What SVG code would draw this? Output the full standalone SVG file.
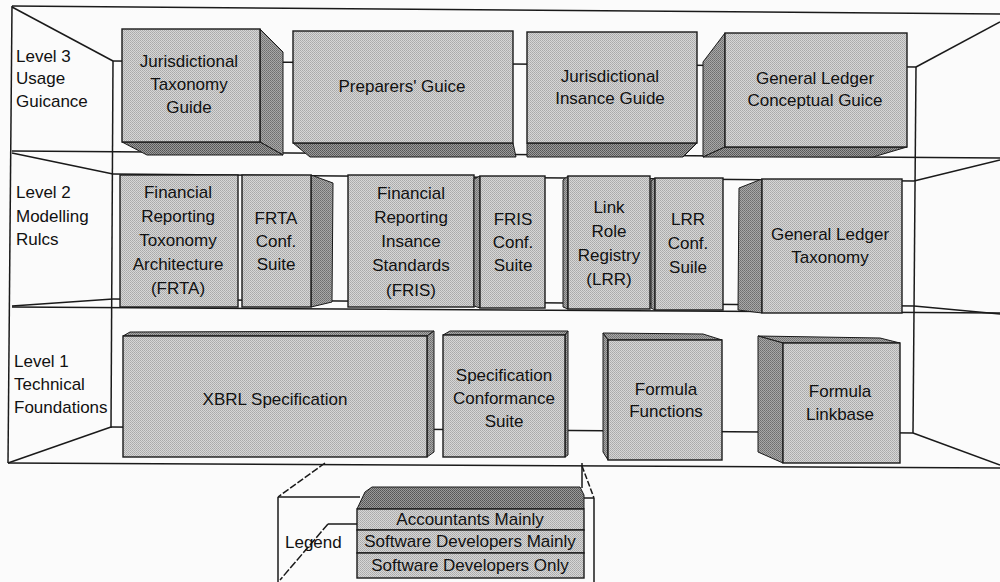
<svg xmlns="http://www.w3.org/2000/svg" width="1000" height="582" viewBox="0 0 1000 582">
<defs>
<pattern id="tf" width="2" height="2" patternUnits="userSpaceOnUse"><rect width="2" height="2" fill="#d6d6d6"/><rect width="1" height="1" fill="#a9a9a9"/><rect x="1" y="1" width="1" height="1" fill="#b2b2b2"/></pattern>
<pattern id="ts" width="2" height="2" patternUnits="userSpaceOnUse"><rect width="2" height="2" fill="#a8a8a8"/><rect width="1" height="1" fill="#6e6e6e"/><rect x="1" y="1" width="1" height="1" fill="#7a7a7a"/></pattern>
<pattern id="tb" width="2" height="2" patternUnits="userSpaceOnUse"><rect width="2" height="2" fill="#9a9a9a"/><rect width="1" height="1" fill="#555"/><rect x="1" y="1" width="1" height="1" fill="#606060"/></pattern>
<style>
.ln{stroke:#1a1a1a;stroke-width:1.5;fill:none}
.f{fill:url(#tf);stroke:#1a1a1a;stroke-width:1.4}
.s{fill:url(#ts);stroke:#1a1a1a;stroke-width:1}
.b{fill:url(#tb);stroke:#1a1a1a;stroke-width:1}
.t{font-family:"Liberation Sans",Arial,sans-serif;font-size:17px;fill:#111}
.c{text-anchor:middle}
</style>
</defs>
<rect width="1000" height="582" fill="#fbfbfb"/>

<g id="frame">
<line class="ln" x1="12" y1="6" x2="1000" y2="14"/>
<line class="ln" x1="12" y1="6" x2="8" y2="463"/>
<line class="ln" x1="12" y1="7" x2="113" y2="61"/>
<line class="ln" x1="113" y1="61" x2="111" y2="428"/>
<line class="ln" x1="916" y1="67" x2="1000" y2="22"/>
<line class="ln" x1="916" y1="67" x2="913" y2="433"/>
<line class="ln" x1="113" y1="61" x2="916" y2="67"/>
<line class="ln" x1="12" y1="151" x2="1000" y2="158"/>
<line class="ln" x1="12" y1="153" x2="113" y2="174"/>
<line class="ln" x1="113" y1="174" x2="914" y2="181"/>
<line class="ln" x1="914" y1="181" x2="1000" y2="160"/>
<line class="ln" x1="12" y1="307" x2="1000" y2="313"/>
<line class="ln" x1="12" y1="306" x2="113" y2="299"/>
<line class="ln" x1="113" y1="299" x2="914" y2="306"/>
<line class="ln" x1="914" y1="306" x2="1000" y2="314"/>
<line class="ln" x1="111" y1="427" x2="913" y2="433"/>
<line class="ln" x1="111" y1="427" x2="8" y2="463"/>
<line class="ln" x1="913" y1="433" x2="1000" y2="465"/>
<line class="ln" x1="8" y1="463" x2="1000" y2="468"/>
</g>

<g id="connectors">
<line class="ln" x1="325" y1="463" x2="278" y2="497" stroke-dasharray="7 2"/>
<line class="ln" x1="278" y1="497" x2="278" y2="582"/>
<line class="ln" x1="278" y1="497" x2="360" y2="497"/>
<line class="ln" x1="582" y1="463" x2="582" y2="488"/>
<line class="ln" x1="582" y1="466" x2="594" y2="498" stroke-dasharray="6 2"/>
<line class="ln" x1="584" y1="498" x2="594" y2="498"/>
<line class="ln" x1="594" y1="498" x2="594" y2="582"/>
<line class="ln" x1="328" y1="524" x2="357" y2="524"/>
<line class="ln" x1="328" y1="524" x2="280" y2="580" stroke-dasharray="8 2"/>
</g>

<g id="labels">
<text class="t" x="16" y="62">Level 3</text>
<text class="t" x="16" y="84">Usage</text>
<text class="t" x="16" y="107">Guicance</text>
<text class="t" x="16" y="198">Level 2</text>
<text class="t" x="16" y="222">Modelling</text>
<text class="t" x="16" y="245">Rulcs</text>
<text class="t" x="14" y="367">Level 1</text>
<text class="t" x="14" y="390">Technical</text>
<text class="t" x="14" y="413">Foundations</text>
</g>

<g id="jurisdictional-taxonomy-guide">
<polygon class="s" points="260,29 283,52 283,155 260,142"/>
<polygon class="b" points="122,142 260,142 283,155 147,155"/>
<rect class="f" x="122" y="29" width="138" height="113"/>
<text class="t c" x="189" y="67">Jurisdictional</text>
<text class="t c" x="189" y="90">Taxonomy</text>
<text class="t c" x="189" y="113">Guide</text>
</g>

<g id="preparers-guide">
<polygon class="b" points="293,143 513,143 516,157 310,157"/>
<rect class="f" x="293" y="31" width="220" height="112"/>
<text class="t c" x="402" y="92">Preparers' Guice</text>
</g>

<g id="jurisdictional-instance-guide">
<polygon class="b" points="527,143 697,143 683,157 527,157"/>
<rect class="f" x="527" y="32" width="170" height="111"/>
<text class="t c" x="610" y="82">Jurisdictional</text>
<text class="t c" x="610" y="104">Insance Guide</text>
</g>

<g id="general-ledger-conceptual-guide">
<polygon class="s" points="725,33 703,62 703,157 725,147"/>
<polygon class="b" points="725,147 907,147 873,157 703,157"/>
<rect class="f" x="725" y="33" width="182" height="114"/>
<text class="t c" x="815" y="84">General Ledger</text>
<text class="t c" x="815" y="106">Conceptual Guice</text>
</g>

<g id="frta">
<rect class="f" x="120" y="175" width="118" height="132"/>
<text class="t c" x="178" y="198">Financial</text>
<text class="t c" x="178" y="222">Reporting</text>
<text class="t c" x="178" y="246">Toxonomy</text>
<text class="t c" x="178" y="270">Architecture</text>
<text class="t c" x="178" y="294">(FRTA)</text>
</g>

<g id="frta-conf-suite">
<polygon class="s" points="311,175 333,183 332,302 311,307"/>
<rect class="f" x="242" y="175" width="69" height="132"/>
<text class="t c" x="276" y="224">FRTA</text>
<text class="t c" x="276" y="247">Conf.</text>
<text class="t c" x="276" y="270">Suite</text>
</g>

<g id="fris">
<rect class="f" x="348" y="175" width="126" height="132"/>
<text class="t c" x="411" y="199">Financial</text>
<text class="t c" x="411" y="223">Reporting</text>
<text class="t c" x="411" y="247">Insance</text>
<text class="t c" x="411" y="271">Standards</text>
<text class="t c" x="411" y="296">(FRIS)</text>
</g>

<g id="fris-conf-suite">
<polygon class="s" points="474,179 480,176 480,308 474,306"/>
<rect class="f" x="480" y="176" width="65" height="132"/>
<text class="t c" x="513" y="225">FRIS</text>
<text class="t c" x="513" y="248">Conf.</text>
<text class="t c" x="513" y="271">Suite</text>
</g>

<g id="lrr">
<polygon class="s" points="563,180 568,176 568,309 563,307"/>
<rect class="f" x="568" y="176" width="82" height="133"/>
<text class="t c" x="609" y="213">Link</text>
<text class="t c" x="609" y="237">Role</text>
<text class="t c" x="609" y="261">Registry</text>
<text class="t c" x="609" y="285">(LRR)</text>
</g>

<g id="lrr-conf-suite">
<polygon class="s" points="651,181 655,178 655,310 651,308"/>
<rect class="f" x="655" y="178" width="68" height="132"/>
<text class="t c" x="688" y="225">LRR</text>
<text class="t c" x="688" y="249">Conf.</text>
<text class="t c" x="688" y="273">Suile</text>
</g>

<g id="general-ledger-taxonomy">
<polygon class="s" points="762,179 739,188 738,310 762,313"/>
<rect class="f" x="762" y="179" width="140" height="134"/>
<text class="t c" x="830" y="240">General Ledger</text>
<text class="t c" x="830" y="263">Taxonomy</text>
</g>

<g id="xbrl-specification">
<polygon class="s" points="123,336 130,332 434,331 427,336"/>
<polygon class="s" points="427,336 434,331 434,452 427,457"/>
<rect class="f" x="123" y="336" width="304" height="121"/>
<text class="t c" x="275" y="405">XBRL Specification</text>
</g>

<g id="specification-conformance-suite">
<polygon class="s" points="443,335 450,331 568,331 565,335"/>
<polygon class="s" points="565,335 568,331 568,455 565,457"/>
<rect class="f" x="443" y="335" width="122" height="122"/>
<text class="t c" x="504" y="381">Specification</text>
<text class="t c" x="504" y="404">Conformance</text>
<text class="t c" x="504" y="427">Suite</text>
</g>

<g id="formula-functions">
<polygon class="s" points="603,333 703,334 722,340 608,340"/>
<polygon class="s" points="603,333 608,340 608,460 603,452"/>
<rect class="f" x="608" y="340" width="114" height="120"/>
<text class="t c" x="666" y="395">Formula</text>
<text class="t c" x="666" y="417">Functions</text>
</g>

<g id="formula-linkbase">
<polygon class="s" points="758,336 880,338 900,343 783,343"/>
<polygon class="s" points="758,336 783,343 783,463 758,452"/>
<rect class="f" x="783" y="343" width="117" height="120"/>
<text class="t c" x="840" y="397">Formula</text>
<text class="t c" x="840" y="420">Linkbase</text>
</g>

<g id="legend">
<polygon class="b" points="357,509 365,492 372,487 580,487 584,495 584,509"/>
<rect class="f" x="357" y="509" width="227" height="21"/>
<rect class="f" x="357" y="530" width="227" height="23"/>
<rect class="f" x="357" y="553" width="227" height="25"/>
<text class="t" x="285" y="548">Legend</text>
<text class="t c" x="470" y="525">Accountants Mainly</text>
<text class="t c" x="470" y="547">Software Developers Mainly</text>
<text class="t c" x="470" y="571">Software Developers Only</text>
</g>
</svg>
